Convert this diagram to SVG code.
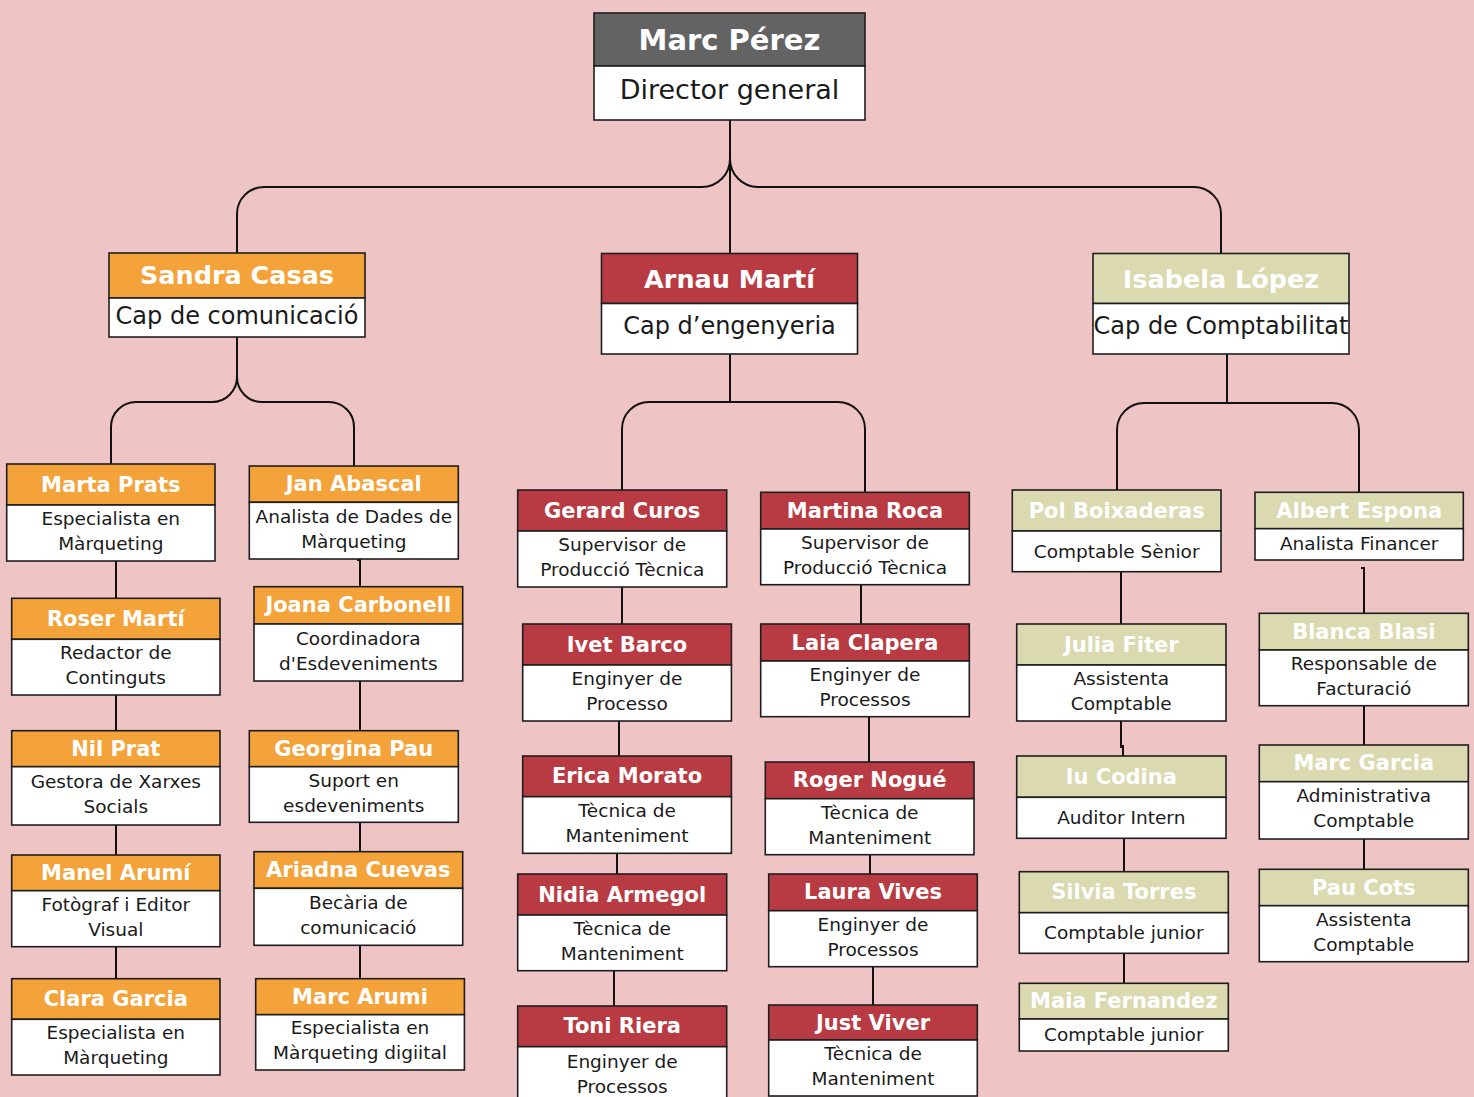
<svg xmlns="http://www.w3.org/2000/svg" width="1474" height="1097" viewBox="0 0 1474 1097">
<style>
.bg{fill:#EEC4C5}
.k{fill:#636363}.o{fill:#F4A33A}.r{fill:#B83B43}.g{fill:#DAD9B0}.w{fill:#FFFFFF}
rect{stroke:#1E1E1E;stroke-width:1.6}
.n{font-family:"DejaVu Sans",sans-serif;font-weight:bold;fill:#FFFFFF;text-anchor:middle;font-size:21px}
.t{font-family:"DejaVu Sans",sans-serif;fill:#1A1A1A;text-anchor:middle;font-size:18.5px}
.n2{font-size:25.5px}.t2{font-size:24px}
.n1{font-size:29px}.t1{font-size:27px}
#connectors path{fill:none;stroke:#111;stroke-width:2}
</style>
<rect class="bg" x="0" y="0" width="1474" height="1097" style="stroke:none"/>
<g id="connectors">
<path d="M730,120 V254"/>
<path d="M730,120 V159 A28,28 0 0 1 702,187 H264 A27,27 0 0 0 237,214 V253"/>
<path d="M730,159 A28,28 0 0 0 758,187 H1194 A27,27 0 0 1 1221,214 V253"/>
<path d="M237,337 V377 A25,25 0 0 1 212,402 H136 A25,25 0 0 0 111,427 V464"/>
<path d="M237,377 A25,25 0 0 0 262,402 H329 A25,25 0 0 1 354,427 V466"/>
<path d="M730,354 V402"/>
<path d="M622,490 V429 A27,27 0 0 1 649,402 H838 A27,27 0 0 1 865,429 V492"/>
<path d="M1227,354 V403"/>
<path d="M1117,490 V430 A27,27 0 0 1 1144,403 H1332 A27,27 0 0 1 1359,430 V492"/>
<path d="M116,561 V598"/>
<path d="M116,695 V731"/>
<path d="M116,825 V855"/>
<path d="M116,947 V979"/>
<path d="M357,560 H360 V587"/>
<path d="M360,681 V731"/>
<path d="M360,822 V852"/>
<path d="M360,945 V979"/>
<path d="M622,587 V624"/>
<path d="M619,721 V756"/>
<path d="M617,853 V874"/>
<path d="M614,971 V1006"/>
<path d="M861,585 V624"/>
<path d="M869,717 V762"/>
<path d="M870,855 V874"/>
<path d="M873,967 V1005"/>
<path d="M1121,572 V624"/>
<path d="M1121,721 V748"/>
<path d="M1123,745 V756"/>
<path d="M1124,838 V872"/>
<path d="M1124,953 V983"/>
<path d="M1361,568 H1364 V613"/>
<path d="M1364,706 V745"/>
<path d="M1364,839 V869"/>
</g>

<g id="marc-perez">
<rect class="k" x="594" y="13" width="271" height="53"/>
<rect class="w" x="594" y="66" width="271" height="54"/>
<text class="n n1" x="729.5" y="50">Marc Pérez</text>
<text class="t t1" x="729.5" y="99">Director general</text>
</g>

<g id="sandra-casas">
<rect class="o" x="109" y="253" width="256" height="45"/>
<rect class="w" x="109" y="298" width="256" height="39"/>
<text class="n n2" x="237" y="284">Sandra Casas</text>
<text class="t t2" x="237" y="324">Cap de comunicació</text>
</g>
<g id="arnau-marti">
<rect class="r" x="601.5" y="253.5" width="256" height="50"/>
<rect class="w" x="601.5" y="303.5" width="256" height="50.5"/>
<text class="n n2" x="729.5" y="287.5">Arnau Martí</text>
<text class="t t2" x="729.5" y="334">Cap d’engenyeria</text>
</g>
<g id="isabela-lopez">
<rect class="g" x="1093" y="253.5" width="256" height="50"/>
<rect class="w" x="1093" y="303.5" width="256" height="50.5"/>
<text class="n n2" x="1221" y="288">Isabela López</text>
<text class="t t2" x="1221" y="333.5">Cap de Comptabilitat</text>
</g>

<g id="marta-prats">
<rect class="o" x="6.7" y="464" width="208.3" height="41"/>
<rect class="w" x="6.7" y="505" width="208.3" height="56"/>
<text class="n" x="110.8" y="491.5">Marta Prats</text>
<text class="t" x="110.8" y="525">Especialista en</text>
<text class="t" x="110.8" y="550">Màrqueting</text>
</g>
<g id="roser-marti">
<rect class="o" x="11.7" y="598.3" width="208.3" height="41"/>
<rect class="w" x="11.7" y="639.3" width="208.3" height="55.7"/>
<text class="n" x="115.8" y="625.8">Roser Martí</text>
<text class="t" x="115.8" y="659">Redactor de</text>
<text class="t" x="115.8" y="684">Continguts</text>
</g>
<g id="nil-prat">
<rect class="o" x="11.7" y="730.7" width="208.3" height="36"/>
<rect class="w" x="11.7" y="766.7" width="208.3" height="58.3"/>
<text class="n" x="115.8" y="755.7">Nil Prat</text>
<text class="t" x="115.8" y="787.8">Gestora de Xarxes</text>
<text class="t" x="115.8" y="812.8">Socials</text>
</g>
<g id="manel-arumi">
<rect class="o" x="11.7" y="855" width="208.3" height="35.7"/>
<rect class="w" x="11.7" y="890.7" width="208.3" height="56"/>
<text class="n" x="115.8" y="879.8">Manel Arumí</text>
<text class="t" x="115.8" y="910.7">Fotògraf i Editor</text>
<text class="t" x="115.8" y="935.7">Visual</text>
</g>
<g id="clara-garcia">
<rect class="o" x="11.7" y="978.7" width="208.3" height="40.6"/>
<rect class="w" x="11.7" y="1019.3" width="208.3" height="55.7"/>
<text class="n" x="115.8" y="1006">Clara Garcia</text>
<text class="t" x="115.8" y="1039.2">Especialista en</text>
<text class="t" x="115.8" y="1064.2">Màrqueting</text>
</g>

<g id="jan-abascal">
<rect class="o" x="249.3" y="466" width="209" height="36.3"/>
<rect class="w" x="249.3" y="502.3" width="209" height="56.7"/>
<text class="n" x="353.8" y="491.2">Jan Abascal</text>
<text class="t" x="353.8" y="522.7">Analista de Dades de</text>
<text class="t" x="353.8" y="547.7">Màrqueting</text>
</g>
<g id="joana-carbonell">
<rect class="o" x="254" y="586.7" width="208.7" height="37.3"/>
<rect class="w" x="254" y="624" width="208.7" height="57"/>
<text class="n" x="358.3" y="612.3">Joana Carbonell</text>
<text class="t" x="358.3" y="644.5">Coordinadora</text>
<text class="t" x="358.3" y="669.5">d'Esdeveniments</text>
</g>
<g id="georgina-pau">
<rect class="o" x="249.3" y="730.7" width="209" height="36"/>
<rect class="w" x="249.3" y="766.7" width="209" height="55.6"/>
<text class="n" x="353.8" y="755.7">Georgina Pau</text>
<text class="t" x="353.8" y="786.5">Suport en</text>
<text class="t" x="353.8" y="811.5">esdeveniments</text>
</g>
<g id="ariadna-cuevas">
<rect class="o" x="254" y="851.7" width="208.7" height="36.6"/>
<rect class="w" x="254" y="888.3" width="208.7" height="57"/>
<text class="n" x="358.3" y="877">Ariadna Cuevas</text>
<text class="t" x="358.3" y="908.8">Becària de</text>
<text class="t" x="358.3" y="933.8">comunicació</text>
</g>
<g id="marc-arumi">
<rect class="o" x="255.7" y="978.7" width="208.7" height="36"/>
<rect class="w" x="255.7" y="1014.7" width="208.7" height="55.3"/>
<text class="n" x="360" y="1003.7">Marc Arumi</text>
<text class="t" x="360" y="1034.3">Especialista en</text>
<text class="t" x="360" y="1059.3">Màrqueting digiital</text>
</g>

<g id="gerard-curos">
<rect class="r" x="517.7" y="490" width="209" height="41"/>
<rect class="w" x="517.7" y="531" width="209" height="56"/>
<text class="n" x="622.2" y="517.5">Gerard Curos</text>
<text class="t" x="622.2" y="551">Supervisor de</text>
<text class="t" x="622.2" y="576">Producció Tècnica</text>
</g>
<g id="ivet-barco">
<rect class="r" x="522.7" y="624" width="208.7" height="41"/>
<rect class="w" x="522.7" y="665" width="208.7" height="56"/>
<text class="n" x="627" y="651.5">Ivet Barco</text>
<text class="t" x="627" y="685">Enginyer de</text>
<text class="t" x="627" y="710">Processo</text>
</g>
<g id="erica-morato">
<rect class="r" x="522.7" y="756" width="208.7" height="40.7"/>
<rect class="w" x="522.7" y="796.7" width="208.7" height="56.6"/>
<text class="n" x="627" y="783.3">Erica Morato</text>
<text class="t" x="627" y="817">Tècnica de</text>
<text class="t" x="627" y="842">Manteniment</text>
</g>
<g id="nidia-armegol">
<rect class="r" x="517.7" y="874" width="209" height="41"/>
<rect class="w" x="517.7" y="915" width="209" height="55.7"/>
<text class="n" x="622.2" y="901.5">Nidia Armegol</text>
<text class="t" x="622.2" y="934.8">Tècnica de</text>
<text class="t" x="622.2" y="959.8">Manteniment</text>
</g>
<g id="toni-riera">
<rect class="r" x="517.7" y="1006" width="209" height="40.7"/>
<rect class="w" x="517.7" y="1046.7" width="209" height="63"/>
<text class="n" x="622.2" y="1033.3">Toni Riera</text>
<text class="t" x="622.2" y="1068">Enginyer de</text>
<text class="t" x="622.2" y="1093">Processos</text>
</g>

<g id="martina-roca">
<rect class="r" x="760.7" y="492.3" width="208.6" height="36.7"/>
<rect class="w" x="760.7" y="529" width="208.6" height="55.7"/>
<text class="n" x="865" y="517.7">Martina Roca</text>
<text class="t" x="865" y="548.8">Supervisor de</text>
<text class="t" x="865" y="573.8">Producció Tècnica</text>
</g>
<g id="laia-clapera">
<rect class="r" x="760.7" y="624" width="208.6" height="37"/>
<rect class="w" x="760.7" y="661" width="208.6" height="55.7"/>
<text class="n" x="865" y="649.5">Laia Clapera</text>
<text class="t" x="865" y="680.8">Enginyer de</text>
<text class="t" x="865" y="705.8">Processos</text>
</g>
<g id="roger-nogue">
<rect class="r" x="765.3" y="762" width="208.7" height="36.7"/>
<rect class="w" x="765.3" y="798.7" width="208.7" height="56"/>
<text class="n" x="869.7" y="787.3">Roger Nogué</text>
<text class="t" x="869.7" y="818.7">Tècnica de</text>
<text class="t" x="869.7" y="843.7">Manteniment</text>
</g>
<g id="laura-vives">
<rect class="r" x="768.7" y="874" width="208.6" height="36.7"/>
<rect class="w" x="768.7" y="910.7" width="208.6" height="56"/>
<text class="n" x="873" y="899.3">Laura Vives</text>
<text class="t" x="873" y="930.7">Enginyer de</text>
<text class="t" x="873" y="955.7">Processos</text>
</g>
<g id="just-viver">
<rect class="r" x="768.7" y="1005" width="208.6" height="35"/>
<rect class="w" x="768.7" y="1040" width="208.6" height="56"/>
<text class="n" x="873" y="1029.5">Just Viver</text>
<text class="t" x="873" y="1060">Tècnica de</text>
<text class="t" x="873" y="1085">Manteniment</text>
</g>

<g id="pol-boixaderas">
<rect class="g" x="1012.3" y="490" width="208.7" height="41"/>
<rect class="w" x="1012.3" y="531" width="208.7" height="40.7"/>
<text class="n" x="1116.7" y="517.5">Pol Boixaderas</text>
<text class="t" x="1116.7" y="557.5">Comptable Sènior</text>
</g>
<g id="julia-fiter">
<rect class="g" x="1016.7" y="624" width="209.3" height="41"/>
<rect class="w" x="1016.7" y="665" width="209.3" height="56"/>
<text class="n" x="1121.3" y="651.5">Julia Fiter</text>
<text class="t" x="1121.3" y="685">Assistenta</text>
<text class="t" x="1121.3" y="710">Comptable</text>
</g>
<g id="iu-codina">
<rect class="g" x="1016.7" y="756" width="209.3" height="41.3"/>
<rect class="w" x="1016.7" y="797.3" width="209.3" height="41"/>
<text class="n" x="1121.3" y="783.7">Iu Codina</text>
<text class="t" x="1121.3" y="823.5">Auditor Intern</text>
</g>
<g id="silvia-torres">
<rect class="g" x="1019.3" y="871.7" width="209" height="41"/>
<rect class="w" x="1019.3" y="912.7" width="209" height="40.6"/>
<text class="n" x="1123.8" y="899.2">Silvia Torres</text>
<text class="t" x="1123.8" y="938.5">Comptable junior</text>
</g>
<g id="maia-fernandez">
<rect class="g" x="1019.3" y="983.3" width="209" height="35.7"/>
<rect class="w" x="1019.3" y="1019" width="209" height="32"/>
<text class="n" x="1123.8" y="1008.2">Maia Fernandez</text>
<text class="t" x="1123.8" y="1041">Comptable junior</text>
</g>

<g id="albert-espona">
<rect class="g" x="1255" y="492.3" width="208.3" height="36.4"/>
<rect class="w" x="1255" y="528.7" width="208.3" height="31.3"/>
<text class="n" x="1359.2" y="517.5">Albert Espona</text>
<text class="t" x="1359.2" y="550">Analista Financer</text>
</g>
<g id="blanca-blasi">
<rect class="g" x="1259.3" y="613.3" width="209" height="36.7"/>
<rect class="w" x="1259.3" y="650" width="209" height="55.7"/>
<text class="n" x="1363.8" y="638.7">Blanca Blasi</text>
<text class="t" x="1363.8" y="669.8">Responsable de</text>
<text class="t" x="1363.8" y="694.8">Facturació</text>
</g>
<g id="marc-garcia">
<rect class="g" x="1259.3" y="745" width="209" height="36.7"/>
<rect class="w" x="1259.3" y="781.7" width="209" height="57.3"/>
<text class="n" x="1363.8" y="770.3">Marc Garcia</text>
<text class="t" x="1363.8" y="802.3">Administrativa</text>
<text class="t" x="1363.8" y="827.3">Comptable</text>
</g>
<g id="pau-cots">
<rect class="g" x="1259.3" y="869.3" width="209" height="36.4"/>
<rect class="w" x="1259.3" y="905.7" width="209" height="56"/>
<text class="n" x="1363.8" y="894.5">Pau Cots</text>
<text class="t" x="1363.8" y="925.7">Assistenta</text>
<text class="t" x="1363.8" y="950.7">Comptable</text>
</g>
</svg>
